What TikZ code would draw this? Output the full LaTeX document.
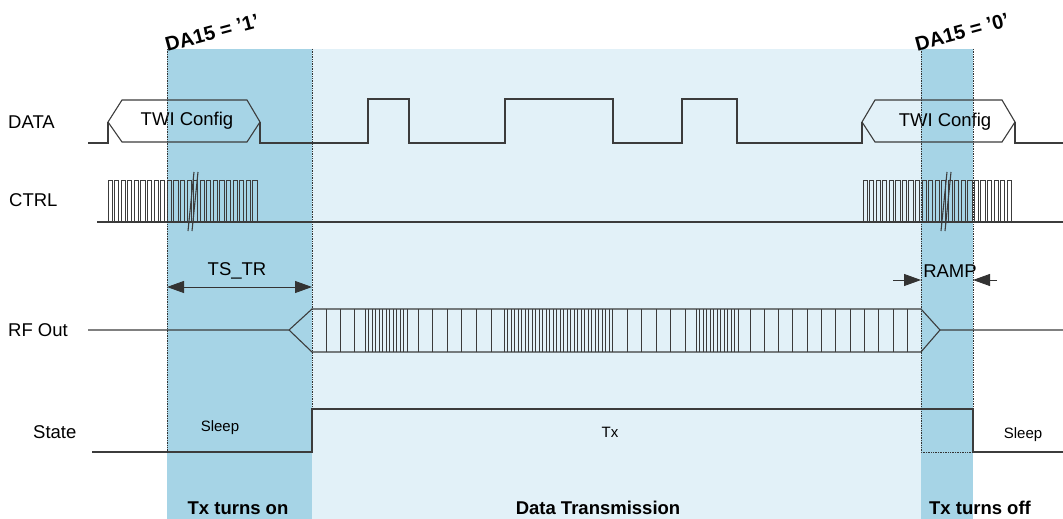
\documentclass[tikz,border=0pt]{standalone}
\usepackage{fontspec}
\setmainfont{Liberation Sans}
\usetikzlibrary{arrows.meta}
\definecolor{darkband}{RGB}{166,212,230}
\definecolor{lightband}{RGB}{226,241,248}
\definecolor{wavegray}{RGB}{60,60,60}
\begin{document}
\begin{tikzpicture}
	[x=1pt,y=-1pt,
	wave/.style={draw=wavegray,line width=1.1pt,line join=miter},
	thinwave/.style={draw=wavegray,line width=0.9pt},
	border/.style={draw=black!80,densely dotted,line width=0.7pt},
	dim/.style={draw=black!80,line width=0.9pt},
	tip/.style={-{Triangle[length=17pt,width=12pt]}},
	siglabel/.style={inner sep=0pt,font=\fontsize{18.5}{20}\selectfont},
	small/.style={inner sep=0pt,font=\fontsize{15}{17}\selectfont},
	phase/.style={inner sep=0pt,font=\bfseries\fontsize{18.5}{20}\selectfont},
	marker/.style={inner sep=0pt,rotate=15,font=\bfseries\fontsize{20}{22}\selectfont}]
	\useasboundingbox (0,0) rectangle (1063,519);
	\fill[darkband] (167,49) rectangle (312,519);
	\fill[lightband] (312,49) rectangle (921,519);
	\fill[darkband] (921,49) rectangle (973,519);
	\node[marker] (da1) at (212,33) {DA15 = '1'};
	\node[marker] (da0) at (962,32) {DA15 = '0'};
	\node[siglabel,anchor=west] (data) at (8,122) {DATA};
	\node[siglabel,anchor=west] (ctrl) at (9,200) {CTRL};
	\node[siglabel,anchor=west] (rfout) at (8,330) {RF Out};
	\node[siglabel,anchor=west] (state) at (33,432) {State};
	\draw[wave] (88,143) -- (108,143) -- (108,122);
	\draw[wave] (108,122) -- (122,100) -- (247,100) -- (260,122) -- (247,142) -- (122,142) -- cycle;
	\draw[wave] (260,122) -- (260,143) -- (368,143) -- (368,99) -- (409,99) -- (409,143)
		-- (505,143) -- (505,99) -- (613,99) -- (613,143) -- (682,143) -- (682,99) -- (737,99)
		-- (737,143) -- (862,143) -- (862,122);
	\draw[wave] (862,122) -- (875,100) -- (1002,100) -- (1015,122) -- (1002,142) -- (875,142) -- cycle;
	\draw[wave] (1015,122) -- (1015,143) -- (1063,143);
	\node[siglabel] (twil) at (187,121) {TWI Config};
	\node[siglabel] (twir) at (945,122) {TWI Config};
	\draw[wave] (97,222) -- (1063,222);
	\foreach \i in {0,...,22} {
		\draw[thinwave] ({108+6.58*\i},222) -- ++(0,-42) -- ++(4.2,0) -- ++(0,42);
		\draw[thinwave] ({863+6.55*\i},222) -- ++(0,-42) -- ++(4.2,0) -- ++(0,42);
	}
	\draw[wave] (188,231) -- (194,172) (192,231) -- (198,172);
	\draw[wave] (941,231) -- (947,172) (945,231) -- (951,172);
	\draw[wave] (88,330) -- (289,330) -- (312,309) -- (921,309) -- (940,330) -- (1063,330);
	\draw[wave] (289,330) -- (312,352) -- (921,352) -- (940,330);
	\foreach \x in {326,340,354,418,432.6,447.2,461.8,476.4,491,627,641.5,656,670.5,685}
		\draw[thinwave] (\x,309) -- (\x,352);
	\foreach \x in {750,764.3,...,908}
		\draw[thinwave] (\x,309) -- (\x,352);
	\foreach \x in {365,368.5,...,409}
		\draw[thinwave] (\x,309) -- (\x,352);
	\foreach \x in {504,507.5,...,613}
		\draw[thinwave] (\x,309) -- (\x,352);
	\foreach \x in {696,699.5,...,740}
		\draw[thinwave] (\x,309) -- (\x,352);
	\draw[wave] (92,452) -- (312,452) -- (312,409) -- (973,409) -- (973,452) -- (1063,452);
	\draw[border] (167,49) -- (167,452);
	\draw[border] (312,49) -- (312,409);
	\draw[border] (921,49) -- (921,452) -- (973,452);
	\draw[border] (973,49) -- (973,409);
	\coordinate (tsl) at (167,287);
	\coordinate (tsr) at (312,287);
	\draw[dim,{Triangle[length=17pt,width=12pt]}-{Triangle[length=17pt,width=12pt]}] (tsl) -- (tsr);
	\node[siglabel] (tstr) at (237,271) {TS\_TR};
	\coordinate (rampa) at (893,280);
	\coordinate (rampb) at (921,280);
	\coordinate (rampc) at (997,280);
	\coordinate (rampd) at (973,280);
	\draw[dim,tip] (rampa) -- (rampb);
	\draw[dim,tip] (rampc) -- (rampd);
	\node[siglabel] (ramp) at (950,271) {RAMP};
	\node[small] (sleepl) at (220,428) {Sleep};
	\node[small] (tx) at (610,432) {Tx};
	\node[small] (sleepr) at (1023,435) {Sleep};
	\node[phase] (txon) at (238,508) {Tx turns on};
	\node[phase] (datatx) at (598,508) {Data Transmission};
	\node[phase] (txoff) at (980,508) {Tx turns off};
\end{tikzpicture}
\end{document}
